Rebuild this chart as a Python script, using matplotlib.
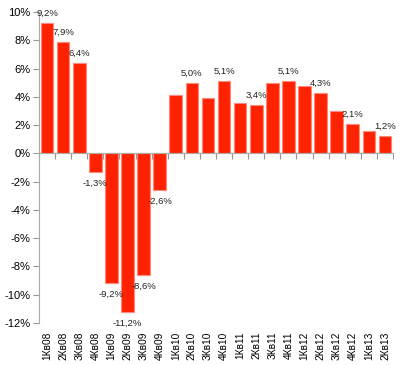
import numpy as np
import matplotlib
matplotlib.use('Agg')
import matplotlib.pyplot as plt
from matplotlib.ticker import FuncFormatter

quarters = ['1Кв08', '2Кв08', '3Кв08', '4Кв08', '1Кв09', '2Кв09', '3Кв09', '4Кв09',
            '1Кв10', '2Кв10', '3Кв10', '4Кв10', '1Кв11', '2Кв11', '3Кв11', '4Кв11',
            '1Кв12', '2Кв12', '3Кв12', '4Кв12', '1Кв13', '2Кв13']
growth = [9.2, 7.9, 6.4, -1.3, -9.2, -11.2, -8.6, -2.6,
          4.1, 5.0, 3.9, 5.1, 3.6, 3.4, 5.0, 5.1,
          4.8, 4.3, 3.0, 2.1, 1.6, 1.2]
# which bars carry a value label
labelled = ['1Кв08', '2Кв08', '3Кв08', '4Кв08', '1Кв09', '2Кв09', '3Кв09', '4Кв09',
            '2Кв10', '4Кв10', '2Кв11', '4Кв11', '2Кв12', '4Кв12', '2Кв13']

plt.rcParams['font.family'] = ['Liberation Sans', 'DejaVu Sans']

fig = plt.figure(figsize=(4, 3.65), dpi=100)
ax = fig.add_axes([0.0975, 0.115, 0.885, 0.852])

x = np.arange(len(quarters))
ax.bar(x, growth, width=0.78, color='#ff2200', edgecolor='#ff8a7a', linewidth=0.8, zorder=2)

for i, (q, v) in enumerate(zip(quarters, growth)):
    if q not in labelled:
        continue
    txt = ('%.1f%%' % v).replace('.', ',')
    off = 7 if v > 0 else -8
    ax.annotate(txt, (i, v), xytext=(0, off), textcoords='offset points',
                ha='center', va='center', fontsize=6.8, color='#222222',
                annotation_clip=False)

ax.set_xlim(-0.5, len(quarters) - 0.5)
ax.set_ylim(-12, 10)
ax.set_yticks(np.arange(-12, 11, 2))
ax.yaxis.set_major_formatter(FuncFormatter(lambda v, p: '%d%%' % v))
ax.tick_params(axis='y', labelsize=8, length=4, color='#999999', width=0.8, pad=2)

for s in ['top', 'right']:
    ax.spines[s].set_visible(False)
ax.spines['left'].set_color('#aaaaaa')
ax.spines['bottom'].set_color('#aaaaaa')
ax.spines['bottom'].set_position(('data', 0))
ax.set_xticks(np.arange(-0.5, len(quarters), 1))
ax.set_xticklabels([])
ax.tick_params(axis='x', length=4, color='#999999', width=0.8)

sec = ax.secondary_xaxis(0.0)
sec.set_xticks(x)
sec.set_xticklabels(quarters, rotation=90, fontsize=7.3)
sec.tick_params(length=0, pad=6)
sec.spines['bottom'].set_visible(False)

fig.savefig('out.png', dpi=100)
